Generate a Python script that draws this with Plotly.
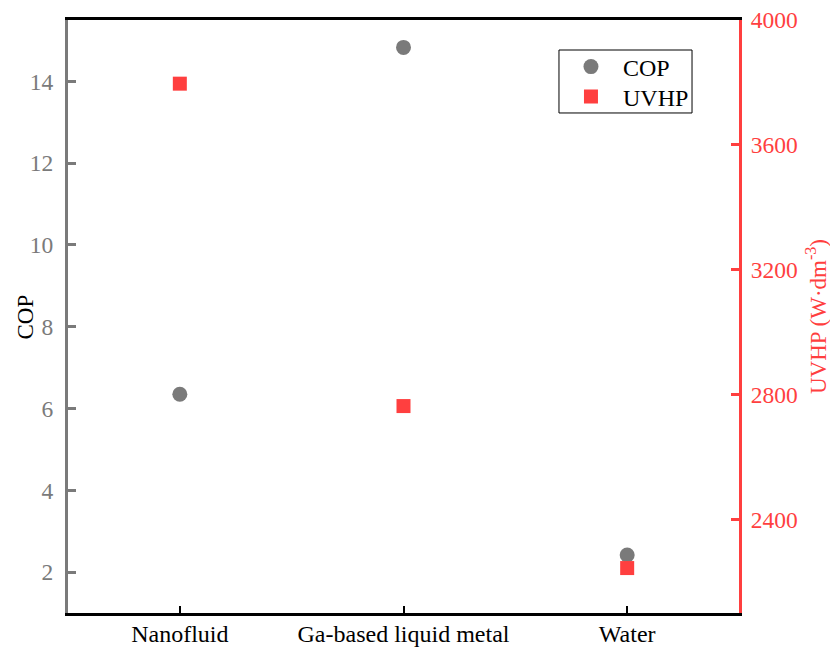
import plotly.graph_objects as go

# Working fluids compared
categories = ["Nanofluid", "Ga-based liquid metal", "Water"]

# Coefficient of performance (left axis)
cop_values = [6.35, 14.83, 2.42]

# Unit volume heating power, W·dm^-3 (right axis)
uvhp_values = [3796, 2763, 2244]

cop_ticks = [2, 4, 6, 8, 10, 12, 14]
uvhp_ticks = [2400, 2800, 3200, 3600, 4000]

GRAY = "#7a7a7a"
RED = "#ff3f3f"
FONT = "Times New Roman, Liberation Serif, serif"

fig = go.Figure()

fig.add_trace(go.Scatter(
    x=categories, y=cop_values, name="COP", mode="markers",
    marker=dict(symbol="circle", size=15, color=GRAY),
    yaxis="y", legend="legend",
))
fig.add_trace(go.Scatter(
    x=categories, y=uvhp_values, name="UVHP", mode="markers",
    marker=dict(symbol="square", size=14, color=RED),
    yaxis="y2", legend="legend2",
))

legend_common = dict(
    xanchor="left", yanchor="middle", x=0.7317,
    bgcolor="rgba(0,0,0,0)", borderwidth=0,
    font=dict(family=FONT, size=24, color="black"),
    itemwidth=54,
)

fig.update_layout(
    width=830, height=648,
    margin=dict(l=68, r=91, t=20, b=35),
    paper_bgcolor="white", plot_bgcolor="white",
    font=dict(family=FONT, size=24, color="black"),
    showlegend=True,
    legend=dict(y=0.9207, **legend_common),
    legend2=dict(y=0.8702, **legend_common),
    shapes=[
        # frame around the two legend entries
        dict(type="rect", xref="paper", yref="paper",
             x0=0.7317, x1=0.930, y0=0.8432, y1=0.9494,
             line=dict(color="black", width=1), fillcolor="rgba(0,0,0,0)"),
    ],
    xaxis=dict(
        type="category", range=[-0.5, 2.5], automargin=False,
        showline=True, linecolor="black", linewidth=3, mirror=True,
        ticks="inside", ticklen=7, tickwidth=2, tickcolor="black",
        showgrid=False, zeroline=False,
        tickfont=dict(family=FONT, size=24, color="black"),
        ticklabelstandoff=-3,
    ),
    yaxis=dict(
        range=[1.0, 15.5], tickvals=cop_ticks, automargin=False,
        showline=True, linecolor=GRAY, linewidth=3,
        ticks="inside", ticklen=8, tickwidth=3, tickcolor=GRAY,
        showgrid=False, zeroline=False,
        tickfont=dict(family=FONT, size=23.5, color=GRAY),
        ticklabelstandoff=7,
    ),
    yaxis2=dict(
        range=[2100, 4000], tickvals=uvhp_ticks, automargin=False,
        overlaying="y", side="right", anchor="x",
        showline=True, linecolor=RED, linewidth=3,
        ticks="inside", ticklen=8, tickwidth=3, tickcolor=RED,
        showgrid=False, zeroline=False,
        tickfont=dict(family=FONT, size=23.5, color=RED),
        ticklabelstandoff=4,
    ),
    annotations=[
        dict(text="COP", xref="paper", yref="paper", x=-0.0626, y=0.5,
             xanchor="center", yanchor="middle", textangle=-90, showarrow=False,
             font=dict(family=FONT, size=23, color="black")),
        dict(text="UVHP (W·dm<sup>-3</sup>)", xref="paper", yref="paper",
             x=1.1155, y=0.5, xanchor="center", yanchor="middle", textangle=-90,
             showarrow=False, font=dict(family=FONT, size=23, color=RED)),
    ],
)

fig.write_html("out.html")
